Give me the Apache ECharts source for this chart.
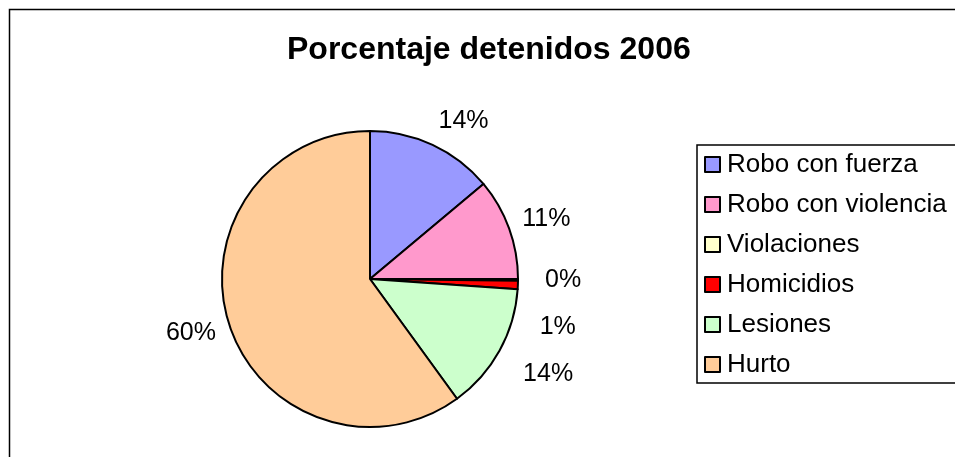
<!DOCTYPE html>
<html>
<head>
<meta charset="utf-8">
<script src="https://cdn.jsdelivr.net/npm/echarts@6/dist/echarts.min.js"></script>
<style>
  html, body { margin: 0; padding: 0; background: #fff; }
  #chart { width: 955px; height: 457px; }
</style>
</head>
<body>
<div id="chart"></div>
<script>
// categories and shares (percent of detenidos)
var categories = ['Robo con fuerza', 'Robo con violencia', 'Violaciones', 'Homicidios', 'Lesiones', 'Hurto'];
var shares = [13.9, 11.1, 0.2, 0.9, 13.9, 60.0];
var colors = ['#9999FF', '#FF99CC', '#FFFFCC', '#FF0000', '#CCFFCC', '#FFCC99'];

var pieCenter = [370, 279];
var pieRadius = 148;
// how far each label anchor sits outside the rim (the crowded ones sit further out)
var labelLineLens = [14, 14, 27, 27, 27, 14];

var total = shares.reduce(function (a, b) { return a + b; }, 0);
// mid angle of every slice, clockwise from 12 o'clock
var midAngles = [];
var acc = 0;
shares.forEach(function (v) {
  midAngles.push((acc + v / 2) / total * Math.PI * 2);
  acc += v;
});

var chart = echarts.init(document.getElementById('chart'));

var option = {
  animation: false,
  color: colors,
  textStyle: { fontFamily: 'Liberation Sans, Arial, sans-serif' },
  title: {
    text: 'Porcentaje detenidos 2006',
    left: 287,
    top: 34,
    padding: 0,
    textStyle: {
      fontSize: 32,
      fontWeight: 'bold',
      color: '#000',
      fontFamily: 'Liberation Sans, Arial, sans-serif'
    }
  },
  // outer chart frame (runs off the right and bottom of the picture)
  graphic: [{
    type: 'rect',
    shape: { x: 9.5, y: 9.5, width: 1000, height: 500 },
    style: { fill: 'none', stroke: '#000', lineWidth: 1.5 },
    silent: true
  }],
  legend: {
    orient: 'vertical',
    left: 697,
    top: 145,
    padding: [6, 40, 5, 7],
    borderColor: '#000',
    borderWidth: 1.5,
    itemWidth: 15,
    itemHeight: 15,
    itemGap: 13,
    icon: 'rect',
    data: categories,
    textStyle: {
      fontSize: 26,
      lineHeight: 27,
      padding: [0, 0, 0, 2],
      color: '#000',
      fontFamily: 'Liberation Sans, Arial, sans-serif'
    }
  },
  series: [{
    name: 'Porcentaje detenidos 2006',
    type: 'pie',
    center: pieCenter,
    radius: pieRadius,
    startAngle: 90,
    clockwise: true,
    percentPrecision: 0,
    itemStyle: { borderColor: '#000', borderWidth: 2 },
    emphasis: { disabled: true },
    label: {
      show: true,
      position: 'outside',
      formatter: '{d}%',
      fontSize: 25,
      color: '#000',
      minMargin: 22,
      distanceToLabelLine: 0,
      fontFamily: 'Liberation Sans, Arial, sans-serif'
    },
    labelLine: { show: false, length: 14, length2: 0 },
    // nudge each label half its height along the slice direction,
    // unless the overlap step already moved it
    labelLayout: function (params) {
      var i = params.dataIndex;
      var a = midAngles[i];
      var naturalY = pieCenter[1] - (pieRadius + labelLineLens[i]) * Math.cos(a);
      var r = params.labelRect;
      var cy = r.y + r.height / 2;
      if (Math.abs(cy - naturalY) > 1) return {};
      return { dy: -r.height / 2 * Math.cos(a) };
    },
    data: categories.map(function (name, i) {
      return { name: name, value: shares[i], labelLine: { length: labelLineLens[i] } };
    })
  }]
};

chart.setOption(option);
</script>
</body>
</html>
